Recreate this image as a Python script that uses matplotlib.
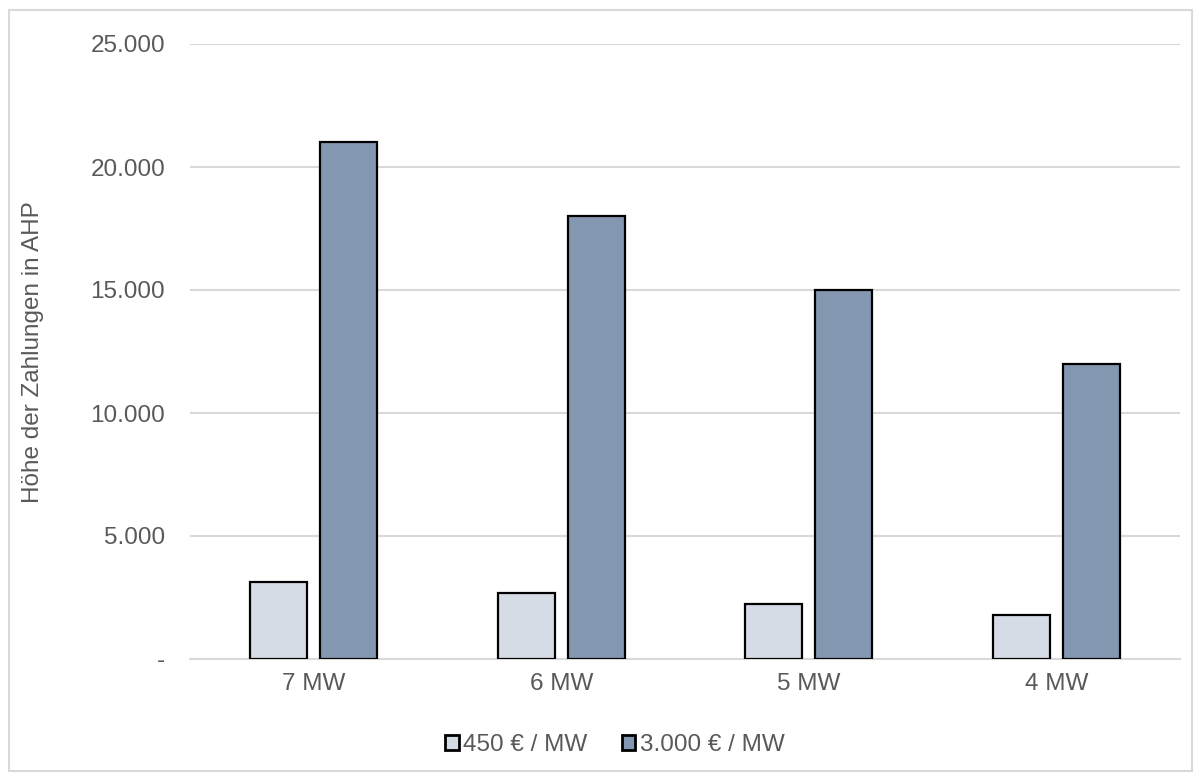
import numpy as np
import matplotlib.pyplot as plt
from matplotlib.patches import Rectangle
from matplotlib.ticker import FuncFormatter

# data
categories = ['7 MW', '6 MW', '5 MW', '4 MW']
series_names = ['450 € / MW', '3.000 € / MW']
low_vals = [3150, 2700, 2250, 1800]
high_vals = [21000, 18000, 15000, 12000]
colors = ['#d6dce5', '#8497b0']

plt.rcParams['font.family'] = ['Liberation Sans', 'DejaVu Sans']
txt = '#595959'

fig = plt.figure(figsize=(12.02, 7.8), dpi=100)
ax = fig.add_axes([190/1202, 1 - 659/780, 990/1202, 615/780])

x = np.arange(len(categories))
w = 0.23
off = 0.142
ax.bar(x - off, low_vals, w, color=colors[0], edgecolor='black', linewidth=1.6,
       label=series_names[0], zorder=3)
ax.bar(x + off, high_vals, w, color=colors[1], edgecolor='black', linewidth=1.6,
       label=series_names[1], zorder=3)

ax.set_xlim(-0.5, len(categories) - 0.5)
ax.set_ylim(0, 25000)
ax.set_yticks(np.arange(0, 25001, 5000))

def fmt(v, pos):
    if v == 0:
        return '-'
    return f'{int(v):,}'.replace(',', '.')

ax.yaxis.set_major_formatter(FuncFormatter(fmt))
ax.set_xticks(x)
ax.set_xticklabels(categories)
ax.tick_params(axis='both', length=0, labelsize=17.5, colors=txt)
ax.tick_params(axis='y', pad=18)
ax.tick_params(axis='x', pad=10)
ax.grid(axis='y', color='#d9d9d9', linewidth=1.5, zorder=0)
for s in ['top', 'right', 'left']:
    ax.spines[s].set_visible(False)
ax.spines['bottom'].set_color('#d9d9d9')
ax.spines['bottom'].set_linewidth(1.5)

fig.text(33/1202, 1 - 352/780, 'Höhe der Zahlungen in AHP', rotation=90,
         ha='center', va='center', fontsize=17.5, color=txt)

leg = ax.legend(loc='center', bbox_to_anchor=((615 - 190) / 990, -(745 - 659) / 615), ncol=2,
                frameon=False, fontsize=17.5, labelcolor=txt, handlelength=0.55,
                handleheight=0.55, handletextpad=0.2, columnspacing=1.4)
for h in leg.legend_handles:
    h.set_linewidth(2)

fig.patches.append(Rectangle((9/1202, 9/780), 1183/1202, 761/780, transform=fig.transFigure,
                             fill=False, edgecolor='#d9d9d9', linewidth=1.5))

plt.savefig('out.png', dpi=100)
